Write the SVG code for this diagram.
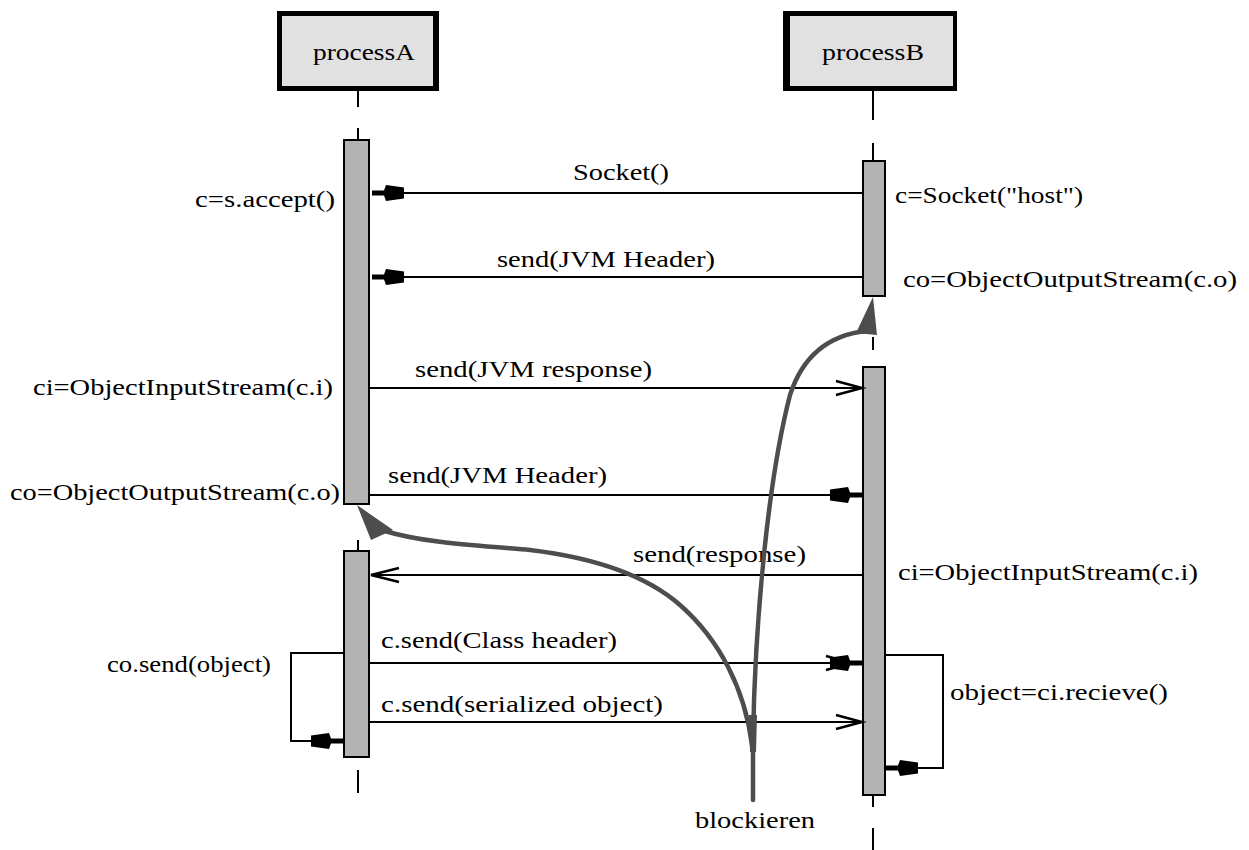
<svg xmlns="http://www.w3.org/2000/svg" xmlns:xlink="http://www.w3.org/1999/xlink" width="1249" height="850" viewBox="0 0 1249 850">
<style>
text{font-family:"Liberation Serif","DejaVu Serif",serif;font-size:24px;fill:#000}
.life{stroke:#000;stroke-width:2;fill:none}
.bar{fill:#b3b3b3;stroke:#000;stroke-width:2}
.msg{stroke:#000;stroke-width:2;fill:none}
.open{stroke:#000;stroke-width:2.5;fill:none}
.blk{stroke:#4d4d4d;stroke-width:4.5;fill:none;stroke-linecap:round}
.blkh{fill:#4d4d4d}
</style>
<defs>
<path id="fillL" d="M0,-2.5 H12 L14,-8 L32,-5.5 V5.5 L14,8 L12,2.5 H0 Z" fill="#000"/>
<path id="fillR" d="M0,-2.5 H-12 L-14,-8 L-32,-5.5 V5.5 L-14,8 L-12,2.5 H0 Z" fill="#000"/>
<path id="openR" d="M-26,-7 L0,0 L-26,7" class="open"/>
<path id="openL" d="M28,-7 L0,0 L28,7" class="open"/>
</defs>
<rect width="1249" height="850" fill="#fff"/>
<g id="processA">
<rect x="277" y="11" width="162" height="80" fill="#000"/>
<rect x="282" y="16" width="151" height="70" fill="#e1e1e1"/>
<text x="313" y="60" textLength="102" lengthAdjust="spacingAndGlyphs">processA</text>
<path class="life" d="M358,90 V107 M358,128 V140 M358,540 V551 M358,770 V793"/>
<rect class="bar" x="344" y="140" width="25" height="364"/>
<rect class="bar" x="344" y="551" width="25" height="206"/>
</g>
<g id="processB">
<rect x="783" y="11" width="174" height="80" fill="#000"/>
<rect x="790" y="16" width="163" height="70" fill="#e1e1e1"/>
<text x="822" y="60" textLength="102" lengthAdjust="spacingAndGlyphs">processB</text>
<path class="life" d="M873,91 V120 M873,143 V161 M873,337 V350 M873,795 V807 M873,828 V850"/>
<rect class="bar" x="863" y="161" width="22" height="135"/>
<rect class="bar" x="863" y="367" width="22" height="428"/>
</g>
<g id="labels">
<text x="195" y="207" textLength="140" lengthAdjust="spacingAndGlyphs">c=s.accept()</text>
<text x="895" y="203" textLength="188" lengthAdjust="spacingAndGlyphs">c=Socket("host")</text>
<text x="903" y="287" textLength="334" lengthAdjust="spacingAndGlyphs">co=ObjectOutputStream(c.o)</text>
<text x="33" y="395" textLength="300" lengthAdjust="spacingAndGlyphs">ci=ObjectInputStream(c.i)</text>
<text x="10" y="500" textLength="330" lengthAdjust="spacingAndGlyphs">co=ObjectOutputStream(c.o)</text>
<text x="898" y="580" textLength="300" lengthAdjust="spacingAndGlyphs">ci=ObjectInputStream(c.i)</text>
<text x="107" y="672" textLength="164" lengthAdjust="spacingAndGlyphs">co.send(object)</text>
<text x="950" y="700" textLength="218" lengthAdjust="spacingAndGlyphs">object=ci.recieve()</text>
<text x="695" y="828" textLength="120" lengthAdjust="spacingAndGlyphs">blockieren</text>
</g>
<g id="connectors">
<path class="msg" d="M863,193 H372"/>
<use xlink:href="#fillL" x="372" y="193"/>
<text x="573" y="180" textLength="96" lengthAdjust="spacingAndGlyphs">Socket()</text>
<path class="msg" d="M863,277 H372"/>
<use xlink:href="#fillL" x="372" y="277"/>
<text x="497" y="267" textLength="218" lengthAdjust="spacingAndGlyphs">send(JVM Header)</text>
<path class="msg" d="M369,388 H861"/>
<use xlink:href="#openR" x="862" y="388"/>
<text x="415" y="377" textLength="237" lengthAdjust="spacingAndGlyphs">send(JVM response)</text>
<path class="msg" d="M369,495 H861"/>
<use xlink:href="#fillR" x="862" y="495"/>
<text x="388" y="483" textLength="219" lengthAdjust="spacingAndGlyphs">send(JVM Header)</text>
<path class="msg" d="M863,575 H371"/>
<use xlink:href="#openL" x="371" y="575"/>
<text x="633" y="562" textLength="173" lengthAdjust="spacingAndGlyphs">send(response)</text>
<path class="msg" d="M369,663 H861"/>
<use xlink:href="#openR" x="852" y="663"/>
<use xlink:href="#fillR" x="862" y="663" transform="translate(0,0)"/>
<text x="381" y="648" textLength="236" lengthAdjust="spacingAndGlyphs">c.send(Class header)</text>
<path class="msg" d="M369,722 H861"/>
<use xlink:href="#openR" x="862" y="722"/>
<text x="381" y="712" textLength="282" lengthAdjust="spacingAndGlyphs">c.send(serialized object)</text>
<path class="msg" d="M344,653 H291 V741 H343"/>
<use xlink:href="#fillR" x="343" y="741"/>
<path class="msg" d="M885,655 H943 V768 H887"/>
<use xlink:href="#fillL" x="886" y="768"/>
<path class="blk" d="M753,800 L753,740 C755,620 768,480 790,395 C803,355 830,335 866,331"/>
<polygon class="blkh" points="873,297 856,333 877,335"/>
<path class="blk" d="M752,745 C745,690 720,640 680,605 C640,570 580,556 530,550 C470,545 420,542 385,531"/>
<polygon class="blkh" points="357,505 371,540 393,530"/>
<path d="M749,715 L757,715 L756,752 L750,752 Z" class="blkh"/>
</g>
</svg>
